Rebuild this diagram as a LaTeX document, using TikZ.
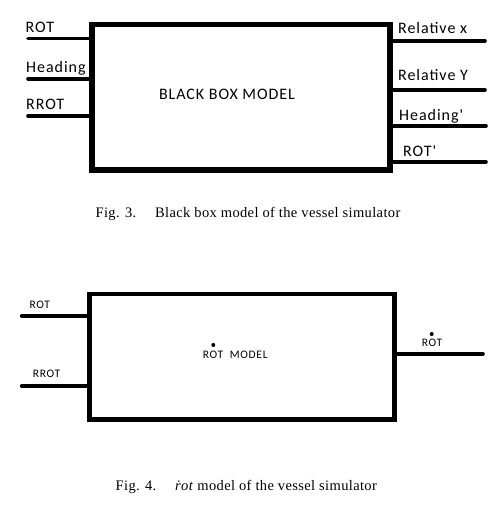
\documentclass[tikz,border=0pt]{standalone}
\usepackage{fontspec}
\setmainfont{Liberation Serif}
\newfontfamily\lblfont[LetterSpace=6]{Carlito}
\newfontfamily\capfont[LetterSpace=2.5]{Liberation Serif}
\newcommand{\boxlw}{5.5pt}
\newcommand{\rboxlw}{4.3pt}
\newcommand{\pinlw}{3.6pt}
\newcommand{\bigsize}{\fontsize{16}{19}\selectfont}
\newcommand{\smallsize}{\fontsize{11.5}{13}\selectfont}

\begin{document}
\begin{tikzpicture}[x=1pt, y=-1pt,
    modelbox/.style={draw, rectangle, inner sep=0pt},
    pin/.style={line width=\pinlw, line cap=round},
    biglbl/.style={font=\lblfont\bigsize, inner sep=0pt, anchor=base west},
    smalllbl/.style={font=\lblfont\smallsize, inner sep=0pt, anchor=base west},
    caption/.style={font=\capfont\fontsize{14.5}{17}\selectfont, inner sep=0pt, anchor=base}]
        \useasboundingbox (0, 0) rectangle (502, 505);
        
        % black box
        \node[modelbox, line width=\boxlw, minimum width=298pt, minimum height=145.5pt] (bbox) at (241, 97.25) {};
        \node[font=\lblfont\bigsize, inner sep=0pt, anchor=base] (bboxtext) at (227, 100) {BLACK BOX MODEL};
        
        % inputs
        \coordinate (inrot) at (28, 38.5);
        \coordinate (inhead) at (28, 79);
        \coordinate (inrrot) at (28, 116);
        \draw[pin] (inrot) -- (inrot -| bbox.west);
        \draw[pin] (inhead) -- (inhead -| bbox.west);
        \draw[pin] (inrrot) -- (inrrot -| bbox.west);
        \node[biglbl] (lblrot) at (25.5, 33) {ROT};
        \node[biglbl] (lblhead) at (26, 73) {Heading};
        \node[biglbl] (lblrrot) at (26, 110) {RROT};
        
        % outputs
        \coordinate (outx) at (485, 41);
        \coordinate (outy) at (485, 90);
        \coordinate (outhead) at (486, 126);
        \coordinate (outrot) at (486, 161.7);
        \draw[pin] (outx -| bbox.east) -- (outx);
        \draw[pin] (outy -| bbox.east) -- (outy);
        \draw[pin] (outhead -| bbox.east) -- (outhead);
        \draw[pin] (outrot -| bbox.east) -- (outrot);
        \node[biglbl] (lblx) at (398, 34) {Relative x};
        \node[biglbl] (lbly) at (398, 81) {Relative Y};
        \node[biglbl] (lblhead2) at (399, 121) {Heading'};
        \node[biglbl] (lblrot2) at (403, 156.5) {ROT'};
        
        \node[caption] (cap3) at (248, 217.7) {Fig. 3.\hspace{1.3em}Black box model of the vessel simulator};
        
        % rot model box
        \node[modelbox, line width=\rboxlw, minimum width=305pt, minimum height=125.5pt] (rbox) at (242, 356.75) {};
        \node[smalllbl] (rboxtext) at (202.7, 358.3) {ROT\ \ MODEL};
        \fill (213.3, 345) circle (2pt);
        
        % inputs
        \coordinate (rinrot) at (21.7, 315.7);
        \coordinate (rinrrot) at (21.7, 386);
        \draw[pin] (rinrot) -- (rinrot -| rbox.west);
        \draw[pin] (rinrrot) -- (rinrrot -| rbox.west);
        \node[smalllbl] (rlblrot) at (29.3, 308.3) {ROT};
        \node[smalllbl] (rlblrrot) at (32.7, 377.3) {RROT};
        
        % output
        \coordinate (routrot) at (483, 354);
        \draw[pin] (routrot -| rbox.east) -- (routrot);
        \node[smalllbl] (rlblout) at (421.7, 346.7) {ROT};
        \fill (431.7, 334) circle (2pt);
        
        \node[caption] (cap4) at (246.3, 490.3) {Fig. 4.\hspace{1.3em}\textit{\.{r}ot} model of the vessel simulator};
    \end{tikzpicture}
\end{document}
